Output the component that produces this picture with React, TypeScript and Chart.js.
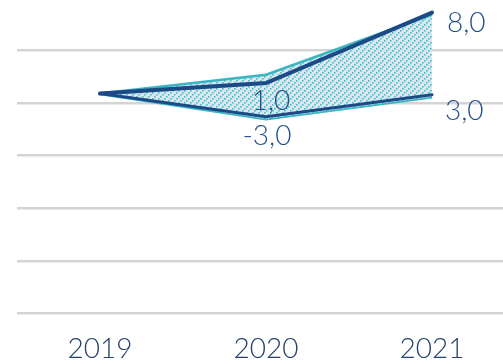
import React, { useEffect, useRef } from "react";
import { Chart, registerables } from "chart.js";

Chart.register(...registerables);

const categories = ["2019", "2020", "2021"];
const darkUpper = [20.9, 21.9, 28.6];
const darkLower = [20.9, 18.7, 20.8];
const bandUpper = [20.9, 22.7, 28.4];
const bandLower = [20.9, 18.5, 20.6];
const upperLabels = [null, "1,0", "8,0"];
const lowerLabels = [null, "-3,0", "3,0"];
const gridStep = 5;

const NAVY = "#1b4a86";
const TEAL = "#3bb5c2";
const LABEL = "#1f4f8b";

function makePattern(): CanvasPattern | string {
  const n = 6;
  const c = document.createElement("canvas");
  c.width = n;
  c.height = n;
  const g = c.getContext("2d");
  if (!g) return "#d9e6ee";
  g.fillStyle = "#dbe6ee";
  g.fillRect(0, 0, n, n);
  g.fillStyle = "#3cc2cd";
  for (let i = 0; i < n; i += 2) {
    g.fillRect(i, n - 2 - i, 1.6, 1.6);
  }
  const p = g.createPattern(c, "repeat");
  return p || "#d9e6ee";
}

const labelPlugin = {
  id: "valueLabels",
  afterDatasetsDraw(chart: any) {
    const ctx = chart.ctx;
    ctx.save();
    ctx.font = "300 28px Lato, 'Open Sans', sans-serif";
    ctx.fillStyle = LABEL;
    ctx.textBaseline = "middle";
    const specs = [
      { ds: 0, labels: upperLabels, offs: [null, { dx: 5, dy: 18, a: "center" }, { dx: 15, dy: 10, a: "left" }] },
      { ds: 1, labels: lowerLabels, offs: [null, { dx: 1, dy: 19, a: "center" }, { dx: 13, dy: 16, a: "left" }] },
    ];
    specs.forEach((s) => {
      const meta = chart.getDatasetMeta(s.ds);
      s.labels.forEach((t, i) => {
        const o: any = s.offs[i];
        if (!t || !o) return;
        const pt = meta.data[i];
        ctx.textAlign = o.a;
        ctx.fillText(t, pt.x + o.dx, pt.y + o.dy);
      });
    });
    ctx.restore();
  },
};

export default function App() {
  const ref = useRef<HTMLCanvasElement>(null);
  useEffect(() => {
    if (!ref.current) return;
    const chart = new Chart(ref.current, {
      type: "line",
      data: {
        labels: categories,
        datasets: [
          { data: darkUpper, borderColor: NAVY, borderWidth: 4, pointRadius: 0, fill: false, order: 0, tension: 0, borderCapStyle: "round" },
          { data: darkLower, borderColor: NAVY, borderWidth: 3, pointRadius: 0, fill: false, order: 0, tension: 0, borderCapStyle: "round" },
          { data: bandUpper, borderColor: TEAL, borderWidth: 2.5, pointRadius: 0, fill: "+1", backgroundColor: makePattern() as any, order: 1, tension: 0 },
          { data: bandLower, borderColor: TEAL, borderWidth: 3.5, pointRadius: 0, fill: false, order: 1, tension: 0 },
        ],
      },
      options: {
        animation: false,
        responsive: false,
        layout: { padding: { left: 17, right: 5, top: 0, bottom: 0 } },
        plugins: { legend: { display: false }, tooltip: { enabled: false } },
        scales: {
          x: {
            offset: true,
            grid: { display: false },
            border: { display: false },
            ticks: { color: "#27436b", font: { family: "Lato, 'Open Sans', sans-serif", size: 28, weight: 300 as any }, padding: 11 },
          },
          y: {
            min: 0,
            max: 29.8,
            border: { display: false },
            grid: { color: "#d4d4d4", lineWidth: 2.5, drawTicks: false },
            ticks: { display: false, stepSize: gridStep },
            afterBuildTicks: (scale: any) => {
              scale.ticks = scale.ticks.filter((t: any) => t.value % gridStep === 0);
            },
          },
        },
      },
      plugins: [labelPlugin],
    });
    return () => chart.destroy();
  }, []);
  return (
    <div style={{ position: "absolute", left: 0, top: 0, width: 503, height: 361, overflow: "hidden" }}>
      <canvas ref={ref} width={520} height={377} style={{ display: "block" }} />
    </div>
  );
}
